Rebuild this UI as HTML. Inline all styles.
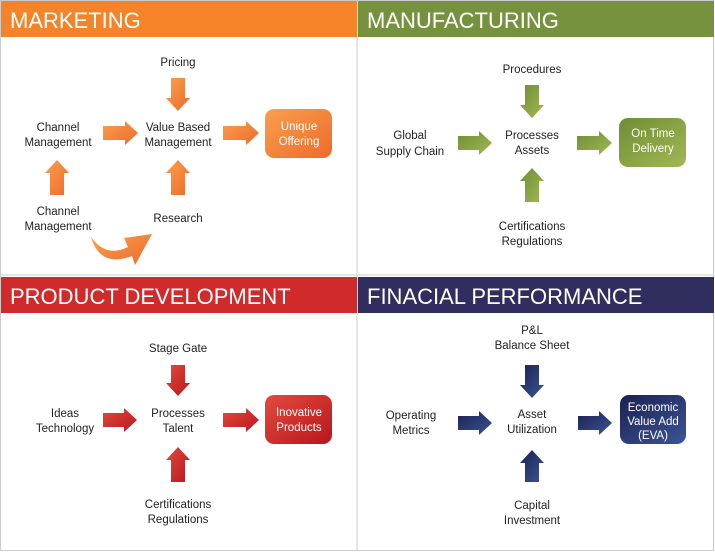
<!DOCTYPE html>
<html><head><meta charset="utf-8"><style>
html,body{margin:0;padding:0;background:#fff}
svg{display:block}
text{font-family:"Liberation Sans",sans-serif;font-size:11.5px;fill:#222;text-anchor:middle}
.h{font-size:22px;fill:#fff;text-anchor:start}
.w{fill:#fff}
</style></head><body>
<svg width="715" height="556" viewBox="0 0 715 556" xmlns="http://www.w3.org/2000/svg">
<defs>
<linearGradient id="o" x1="0" y1="0" x2="1" y2="1"><stop offset="0" stop-color="#f9a04e"/><stop offset="1" stop-color="#ee6a2a"/></linearGradient>
<linearGradient id="g" x1="0" y1="0" x2="1" y2="1"><stop offset="0" stop-color="#6e8e34"/><stop offset="1" stop-color="#a2b755"/></linearGradient>
<linearGradient id="r" x1="0" y1="0" x2="1" y2="1"><stop offset="0" stop-color="#e24a3e"/><stop offset="1" stop-color="#b8161c"/></linearGradient>
<linearGradient id="b" x1="0" y1="0" x2="1" y2="1"><stop offset="0" stop-color="#1c2150"/><stop offset="1" stop-color="#3a5596"/></linearGradient>
</defs>
<rect x="0.5" y="0.5" width="713" height="550" fill="#fff" stroke="#ccc"/>
<line x1="357" y1="0" x2="357" y2="551" stroke="#ccc"/>
<line x1="0" y1="275" x2="714" y2="275" stroke="#ccc"/>
<rect x="1" y="1" width="356" height="36" fill="#f5832a"/>
<rect x="358" y="1" width="356" height="36" fill="#76923f"/>
<rect x="1" y="277" width="356" height="36" fill="#d02a2b"/>
<rect x="358" y="277" width="356" height="36" fill="#2f2e5e"/>
<text class="h" x="10" y="28">MARKETING</text>
<text class="h" x="367" y="28">MANUFACTURING</text>
<text class="h" x="10" y="304">PRODUCT DEVELOPMENT</text>
<text class="h" x="367" y="304">FINACIAL PERFORMANCE</text>

<g fill="url(#o)">
<polygon points="103,126 125,126 125,121 138,133 125,145 125,140 103,140"/>
<polygon points="223,126 246,126 246,121 259,133 246,145 246,140 223,140"/>
<polygon points="171,78 185,78 185,98 190,98 178,111 166,98 171,98"/>
<polygon points="50,195 64,195 64,173 69,173 57,160 45,173 50,173"/>
<polygon points="171,195 185,195 185,173 190,173 178,160 166,173 171,173"/>
<path d="M91,237 Q106,258 128,247 L124,238 L152,234 L135,265 L132,256 Q100,268 91,237 Z"/>
<rect x="265" y="109" width="67" height="49" rx="9"/>
</g>
<g fill="url(#g)">
<polygon points="458,136 479,136 479,131 492,143 479,155 479,150 458,150"/>
<polygon points="577,136 599,136 599,131 612,143 599,155 599,150 577,150"/>
<polygon points="525,85 539,85 539,105 544,105 532,118 520,105 525,105"/>
<polygon points="525,202 539,202 539,181 544,181 532,168 520,181 525,181"/>
<rect x="619" y="118" width="67" height="49" rx="9"/>
</g>
<g fill="url(#r)">
<polygon points="103,413 124,413 124,408 137,420 124,432 124,427 103,427"/>
<polygon points="223,413 246,413 246,408 259,420 246,432 246,427 223,427"/>
<polygon points="171,365 185,365 185,383 190,383 178,396 166,383 171,383"/>
<polygon points="171,482 185,482 185,460 190,460 178,447 166,460 171,460"/>
<rect x="265" y="395" width="67" height="49" rx="9"/>
</g>
<g fill="url(#b)">
<polygon points="458,416 479,416 479,411 492,423 479,435 479,430 458,430"/>
<polygon points="578,416 599,416 599,411 612,423 599,435 599,430 578,430"/>
<polygon points="525,365 539,365 539,385 544,385 532,398 520,385 525,385"/>
<polygon points="525,482 539,482 539,463 544,463 532,450 520,463 525,463"/>
<rect x="620" y="395" width="66" height="49" rx="9"/>
</g>

<text x="178" y="66">Pricing</text>
<text x="58" y="131">Channel</text><text x="58" y="146">Management</text>
<text x="178" y="131">Value Based</text><text x="178" y="146">Management</text>
<text x="58" y="215">Channel</text><text x="58" y="230">Management</text>
<text x="178" y="222">Research</text>
<text class="w" x="299" y="130">Unique</text><text class="w" x="299" y="145">Offering</text>

<text x="532" y="73">Procedures</text>
<text x="410" y="139">Global</text><text x="410" y="155">Supply Chain</text>
<text x="532" y="139">Processes</text><text x="532" y="154">Assets</text>
<text x="532" y="230">Certifications</text><text x="532" y="245">Regulations</text>
<text class="w" x="653" y="137">On Time</text><text class="w" x="653" y="152">Delivery</text>

<text x="178" y="352">Stage Gate</text>
<text x="65" y="417">Ideas</text><text x="65" y="432">Technology</text>
<text x="178" y="417">Processes</text><text x="178" y="432">Talent</text>
<text x="178" y="508">Certifications</text><text x="178" y="523">Regulations</text>
<text class="w" x="299" y="416">Inovative</text><text class="w" x="299" y="431">Products</text>

<text x="532" y="334">P&amp;L</text><text x="532" y="349">Balance Sheet</text>
<text x="411" y="419">Operating</text><text x="411" y="434">Metrics</text>
<text x="532" y="418">Asset</text><text x="532" y="433">Utilization</text>
<text x="532" y="509">Capital</text><text x="532" y="524">Investment</text>
<text class="w" x="653" y="411">Economic</text><text class="w" x="653" y="425">Value Add</text><text class="w" x="653" y="439">(EVA)</text>
</svg>
</body></html>
